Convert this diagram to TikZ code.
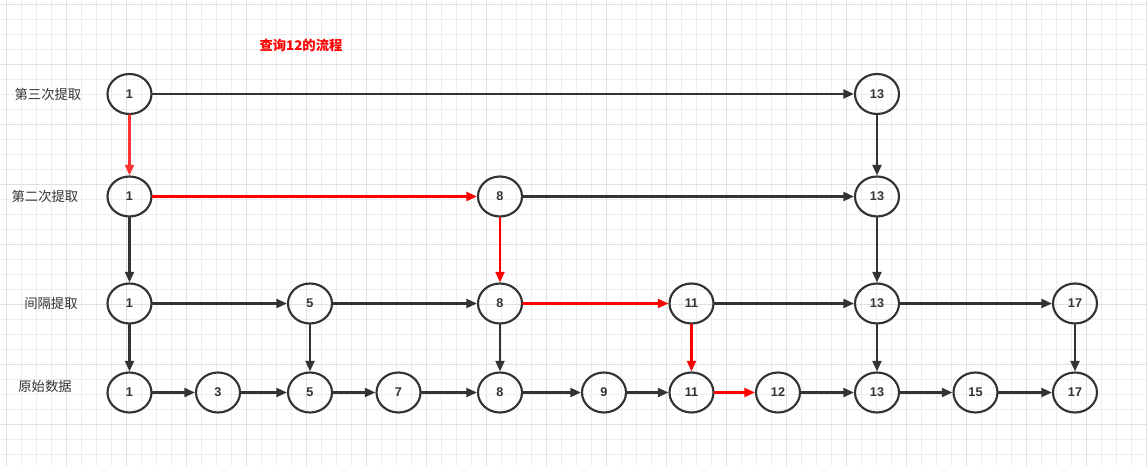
\documentclass[tikz,border=0pt]{standalone}
\usepackage{fontspec}
\setmainfont{Liberation Sans}
\newfontfamily\cjk{Noto Sans CJK SC}
\usetikzlibrary{arrows.meta, shapes.geometric}
\definecolor{ink}{HTML}{333333}
\definecolor{lred}{HTML}{FF3333}
\begin{document}
\begin{tikzpicture}[x=0.75pt, y=-0.75pt, line cap=round, line join=round,
    key/.style={draw=ink, line width=1.6pt, ellipse, minimum width=33pt, minimum height=30pt,
      inner sep=0pt, font=\bfseries\fontsize{9.5}{10}\selectfont, text=ink},
    lvl/.style={font=\cjk\fontsize{10}{11}\selectfont, text=ink},
    link/.style={draw=ink, line width=1.6pt, -{Triangle[length=8pt, width=6.8pt]}},
    hop/.style={link, draw=red, -{Triangle[length=8pt, width=6.8pt, fill=red]}}]
  \useasboundingbox (0,0) rectangle (1147,466);
  % 网格
  \foreach \x in {6.7,21.7,...,1147} \draw[black!7, line width=0.75pt] (\x,0) -- (\x,466);
  \foreach \y in {5,20,...,466} \draw[black!7, line width=0.75pt] (0,\y) -- (1147,\y);
  \foreach \x in {6.7,66.7,...,1147} \draw[black!12, line width=0.75pt] (\x,0) -- (\x,466);
  \foreach \y in {5,65,...,466} \draw[black!12, line width=0.75pt] (0,\y) -- (1147,\y);
  % 标题与层名
  \node[font=\cjk\bfseries\fontsize{10}{11}\selectfont, text=red] (title) at (301,45) {查询12的流程};
  \node[lvl] (lv3) at (48,94) {第三次提取};
  \node[lvl] (lv2) at (45,196) {第二次提取};
  \node[lvl] (lv1) at (51,303) {间隔提取};
  \node[lvl] (lv0) at (45,386) {原始数据};
  % 第三次提取
  \node[key] (t1) at (129.5,94) {1};
  \node[key] (t13) at (877,94) {13};
  % 第二次提取
  \node[key] (s1) at (129.5,196.5) {1};
  \node[key] (s8) at (500,196.5) {8};
  \node[key] (s13) at (877,196.5) {13};
  % 间隔提取
  \node[key] (j1) at (129.5,303.5) {1};
  \node[key] (j5) at (310,303.5) {5};
  \node[key] (j8) at (500,303.5) {8};
  \node[key] (j11) at (691.5,303.5) {11};
  \node[key] (j13) at (877,303.5) {13};
  \node[key] (j17) at (1075,303.5) {17};
  % 原始数据
  \node[key] (y1) at (129.5,392.5) {1};
  \node[key] (y3) at (218,392.5) {3};
  \node[key] (y5) at (310,392.5) {5};
  \node[key] (y7) at (398.5,392.5) {7};
  \node[key] (y8) at (500,392.5) {8};
  \node[key] (y9) at (604,392.5) {9};
  \node[key] (y11) at (691.5,392.5) {11};
  \node[key] (y12) at (778,392.5) {12};
  \node[key] (y13) at (877,392.5) {13};
  \node[key] (y15) at (975.5,392.5) {15};
  \node[key] (y17) at (1075,392.5) {17};
  % 普通指针
  \draw[link] (t1) -- (t13);
  \draw[link] (t13) -- (s13);
  \draw[link] (s8) -- (s13);
  \draw[link] (s1) -- (j1);
  \draw[link] (s13) -- (j13);
  \draw[link] (j1) -- (j5);
  \draw[link] (j5) -- (j8);
  \draw[link] (j11) -- (j13);
  \draw[link] (j13) -- (j17);
  \foreach \k in {1,5,8,13,17} \draw[link] (j\k) -- (y\k);
  \draw[link] (y1) -- (y3);
  \draw[link] (y3) -- (y5);
  \draw[link] (y5) -- (y7);
  \draw[link] (y7) -- (y8);
  \draw[link] (y8) -- (y9);
  \draw[link] (y9) -- (y11);
  \draw[link] (y12) -- (y13);
  \draw[link] (y13) -- (y15);
  \draw[link] (y15) -- (y17);
  % 查询路径
  \draw[hop, draw=lred, -{Triangle[length=8pt, width=6.8pt, fill=lred]}] (t1) -- (s1);
  \draw[hop] (s1) -- (s8);
  \draw[hop] (s8) -- (j8);
  \draw[hop] (j8) -- (j11);
  \draw[hop] (j11) -- (y11);
  \draw[hop] (y11) -- (y12);
\end{tikzpicture}
\end{document}
